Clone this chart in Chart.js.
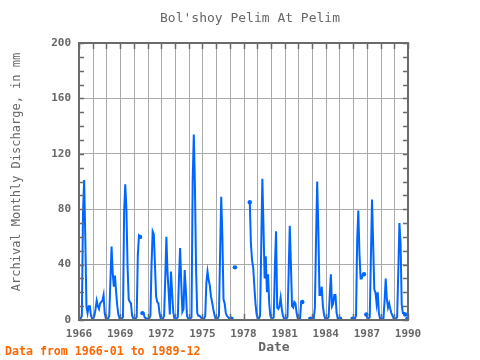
<!DOCTYPE html>
<html><head><meta charset="utf-8">
<script src="https://cdn.jsdelivr.net/npm/chart.js@4"></script>
<style>html,body{margin:0;padding:0;background:#fff}</style>
</head><body>
<canvas id="c" width="480" height="360"></canvas>
<script>
// ---- Data (monthly discharge, mm), Jan..Dec; null = missing ----
const TITLE = "Bol'shoy Pelim At Pelim";
const Y_TITLE = "Archival Monthly Discharge, in mm";
const X_TITLE = "Date";
const FOOTER = "Data from 1966-01 to 1989-12";
const years = [1966,1967,1968,1969,1970,1971,1972,1973,1974,1975,1976,1977,1978,1979,1980,1981,1982,1983,1984,1985,1986,1987,1988,1989];
const q1966 = [1, 1, 3, 77, 101, 60, 10, 5, 10, 10, 3, 1];
const q1967 = [1, 3, 8, 14, 10, 8, 12, 13, 14, 18, 5, 1];
const q1968 = [1, 1, 3, 29, 53, 34, 24, 32, 20, 10, 4, 1];
const q1969 = [1, 1, 2, 78, 98, 80, 39, 15, 13, 12, 3, 1];
const q1970 = [1, 1, 2, 47, 61, 60, null, 5, 5, 2, 1, 1];
const q1971 = [1, 1, 3, 40, 64, 62, 40, 17, 13, 12, 5, 1];
const q1972 = [1, 1, 3, 30, 60, 34, 20, 4, 35, 20, 6, 1];
const q1973 = [1, 1, 2, 30, 52, 27, 6, 8, 36, 22, 3, 1];
const q1974 = [1, 1, 2, 101, 134, 96, 36, 5, 3, 3, 2, 1];
const q1975 = [1, 1, 3, 27, 35, 29, 25, 17, 13, 8, 4, 1];
const q1976 = [1, 1, 3, 47, 89, 60, 15, 12, 5, 3, 2, 1];
const q1977 = [1, 1, null, null, 38, null, null, null, null, null, null, null];
const q1978 = [null, null, null, null, null, 85, 55, 43, 38, 24, 12, 4];
const q1979 = [1, 1, 3, 52, 102, 67, 30, 46, 20, 33, 12, 3];
const q1980 = [1, 1, 2, 39, 64, 9, 8, 10, 16, 8, 3, 1];
const q1981 = [1, 1, 2, 33, 68, 40, 10, 9, 13, 12, 5, 1];
const q1982 = [1, 1, 13, 13, null, null, null, null, null, null, 1, 1];
const q1983 = [1, 1, 9, 58, 100, 66, 18, 18, 24, 10, 4, 1];
const q1984 = [1, 1, 2, 18, 33, 10, 12, 18, 18, 5, 1, 1];
const q1985 = [1, null, null, null, null, null, null, null, null, null, null, 1];
const q1986 = [1, 1, 3, 57, 79, 48, 30, 30, 33, 33, null, 4];
const q1987 = [1, 1, 2, 44, 87, 55, 22, 20, 12, 20, 5, 1];
const q1988 = [1, 1, 1, 14, 30, 15, 9, 12, 8, 5, 3, 1];
const q1989 = [1, 1, 2, 35, 70, 55, 11, 5, 5, 4, null, 1];
const yearly = [q1966,q1967,q1968,q1969,q1970,q1971,q1972,q1973,q1974,q1975,q1976,q1977,q1978,q1979,q1980,q1981,q1982,q1983,q1984,q1985,q1986,q1987,q1988,q1989];
const xTickLabels = [1966,1969,1972,1975,1978,1981,1984,1987,1990];
const yTicks = [0,40,80,120,160,200];

const points = [];
years.forEach((yr, i) => {
  yearly[i].forEach((v, m) => points.push({x: yr + (m + 0.5) / 12, y: v}));
});

const MONO = '"DejaVu Sans Mono", "Liberation Mono", monospace';
const GRAY = '#666666';

const yearGrid = {
  id: 'yearGrid',
  beforeDatasetsDraw(chart) {
    const {ctx, chartArea: a, scales: {x}} = chart;
    ctx.save();
    ctx.strokeStyle = '#aaaaaa';
    ctx.lineWidth = 1;
    ctx.beginPath();
    for (let v = 1967; v < 1990; v++) {
      const px = Math.round(x.getPixelForValue(v)) + 0.5;
      ctx.moveTo(px, a.top); ctx.lineTo(px, a.bottom);
    }
    ctx.stroke();
    ctx.restore();
  }
};

const decor = {
  id: 'decor',
  afterDraw(chart) {
    const {ctx, chartArea: a, scales: {x, y}} = chart;
    ctx.save();
    ctx.strokeStyle = '#6a6a6a';
    ctx.lineWidth = 1.5;
    ctx.beginPath();
    for (let v = 1966; v <= 1990; v++) {
      const px = Math.round(x.getPixelForValue(v)) + 0.5;
      ctx.moveTo(px, a.top); ctx.lineTo(px, a.top + 6);
      ctx.moveTo(px, a.bottom); ctx.lineTo(px, a.bottom - 6);
    }
    for (let v = 0; v <= 200; v += 10) {
      const py = Math.round(y.getPixelForValue(v)) + 0.5;
      ctx.moveTo(a.left, py); ctx.lineTo(a.left + 5, py);
      ctx.moveTo(a.right, py); ctx.lineTo(a.right - 5, py);
    }
    ctx.stroke();
    ctx.lineWidth = 2;
    ctx.strokeRect(a.left, a.top, a.right - a.left, a.bottom - a.top);

    ctx.fillStyle = GRAY;
    ctx.textAlign = 'center'; ctx.textBaseline = 'middle';
    ctx.font = '13px ' + MONO;
    ctx.fillText(TITLE, 250, 18.5);
    ctx.font = 'bold 13px ' + MONO;
    ctx.fillText(X_TITLE, 274, 347.5);
    ctx.save();
    ctx.translate(17, 172); ctx.rotate(-Math.PI / 2);
    ctx.font = '12px ' + MONO;
    ctx.fillText(Y_TITLE, 0, 0);
    ctx.restore();
    ctx.fillStyle = '#ff6600';
    ctx.textAlign = 'left';
    ctx.font = 'bold 11.6px ' + MONO;
    ctx.fillText(FOOTER, 5, 352);
    ctx.restore();
  }
};

function edgeRadius(c) {
  const d = c.dataset.data, i = c.dataIndex;
  if (!d[i] || d[i].y == null) return 0;
  const p = d[i - 1], n = d[i + 1];
  if ((p && p.y == null) || (n && n.y == null)) return 2.2;
  return 0;
}

new Chart(document.getElementById('c'), {
  type: 'line',
  data: { datasets: [{
    data: points,
    borderColor: '#0066ff',
    backgroundColor: '#0066ff',
    borderWidth: 2,
    pointRadius: edgeRadius,
    pointBorderWidth: 0,
    pointHoverRadius: 0,
    spanGaps: false,
    tension: 0,
    fill: false
  }]},
  options: {
    responsive: false,
    animation: false,
    devicePixelRatio: 1,
    layout: { padding: { left: 0, right: 72, top: 43, bottom: 0 } },
    plugins: { legend: { display: false }, tooltip: { enabled: false }, title: { display: false } },
    scales: {
      x: {
        type: 'linear', min: 1966, max: 1990,
        afterFit(s) { s.height = 40; },
        afterBuildTicks(s) { s.ticks = xTickLabels.map(v => ({value: v})); },
        ticks: {
          autoSkip: false, maxRotation: 0, padding: 8,
          color: GRAY, font: { family: MONO, size: 11, weight: 'bold' },
          callback: v => String(v)
        },
        grid: { display: false, drawTicks: false },
        border: { display: false }
      },
      y: {
        min: 0, max: 200,
        afterFit(s) { s.width = 79; },
        afterBuildTicks(s) { s.ticks = yTicks.map(v => ({value: v})); },
        ticks: { padding: 8, color: GRAY, font: { family: MONO, size: 11, weight: 'bold' } },
        grid: { color: '#aaaaaa', lineWidth: 1, drawTicks: false },
        border: { display: false }
      }
    }
  },
  plugins: [yearGrid, decor]
});
</script>
</body></html>
